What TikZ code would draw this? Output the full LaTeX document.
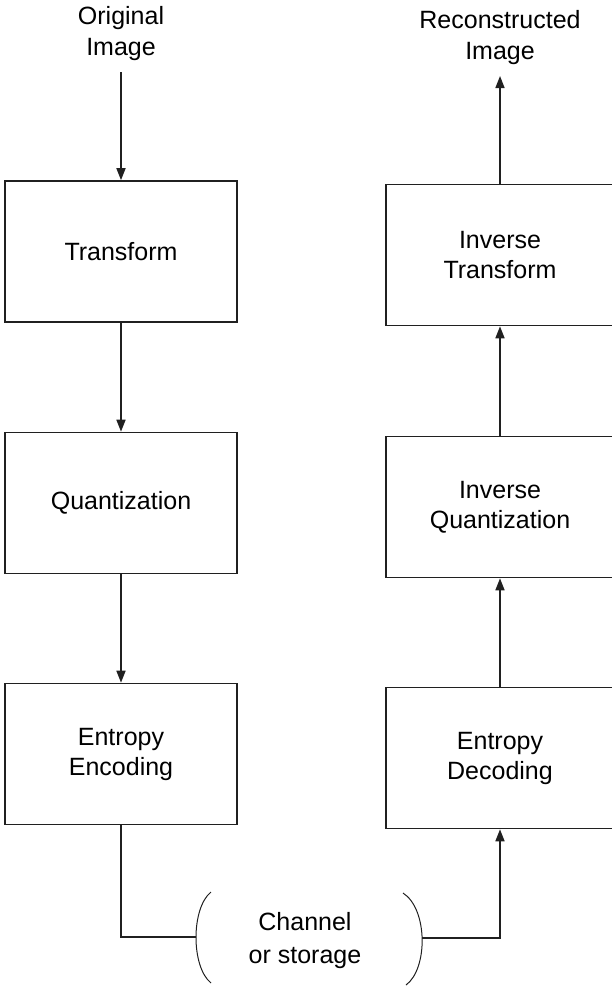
\documentclass[tikz,border=0pt]{standalone}
\usepackage{fontspec}
\setmainfont{Liberation Sans}
\usepackage{xcolor}
\usetikzlibrary{arrows.meta, positioning, calc}
\definecolor{inkgray}{HTML}{202020}

\begin{document}
\begin{tikzpicture}[x=1pt, y=-1pt,
    stagebox/.style={draw=inkgray, line width=1.6pt, rectangle, inner sep=0pt,
      minimum height=141pt, align=center, font=\fontsize{25}{30}\selectfont},
    caption/.style={align=center, inner sep=0pt, font=\fontsize{25}{31}\selectfont},
    flow/.style={draw=inkgray, line width=1.6pt, -{Triangle[length=12pt, width=9pt]}},
    wire/.style={draw=inkgray, line width=1.6pt}]
  \useasboundingbox (0,0) rectangle (612,990);
  \clip (0,0) rectangle (612,990);
  % coder side
  \node[caption] (orig) at (121,34) {Original\\Image};
  \node[stagebox, minimum width=232pt] (trans) at (121,251.5) {Transform};
  \node[stagebox, minimum width=232pt] (quant) at (121,503) {Quantization};
  \node[stagebox, minimum width=232pt] (enc) at (121,754) {Entropy\\Encoding};
  % decoder side
  \node[caption] (recon) at (500,38) {Reconstructed\\Image};
  \node[stagebox, minimum width=228pt] (itrans) at (500,255) {Inverse\\Transform};
  \node[stagebox, minimum width=228pt] (iquant) at (500,507) {Inverse\\Quantization};
  \node[stagebox, minimum width=228pt] (dec) at (500,758) {Entropy\\Decoding};
  % channel
  \node[caption, font=\fontsize{25}{33}\selectfont] (chan) at (305,941) {Channel\\or storage};
  \coordinate (chanL) at (196,937);
  \coordinate (chanR) at (422,938);
  \draw[inkgray, line width=1pt] (211,892) .. controls (191,908) and (191,967) .. (211,983);
  \draw[inkgray, line width=1pt] (403,893) .. controls (428,909) and (428,969) .. (406,985);
  % connectors
  \coordinate (inTop) at (121,72);
  \coordinate (outTop) at (500,76);
  \draw[flow] (inTop) -- (trans.north);
  \draw[flow] (trans) -- (quant);
  \draw[flow] (quant) -- (enc);
  \draw[wire] (enc.south) |- (chanL);
  \draw[flow] (chanR) -| (dec.south);
  \draw[flow] (dec) -- (iquant);
  \draw[flow] (iquant) -- (itrans);
  \draw[flow] (itrans) -- (outTop);
\end{tikzpicture}
\end{document}
